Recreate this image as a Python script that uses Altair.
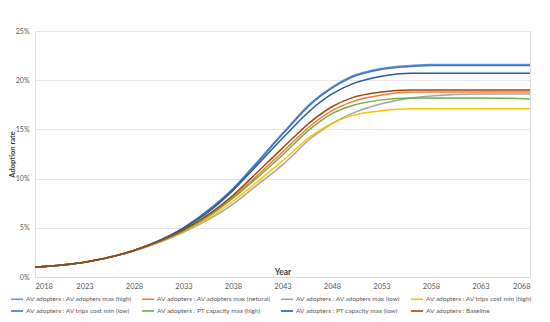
import altair as alt
import pandas as pd

years = [2018, 2023, 2028, 2033, 2036, 2038, 2040, 2043, 2046, 2048, 2050, 2053, 2056, 2058, 2063, 2068]

series_names = [
    "AV adopters : AV adopters max (high)",
    "AV adopters : AV adopters max (netural)",
    "AV adopters : AV adopters max (low)",
    "AV adopters : AV trips cost min (high)",
    "AV adopters : AV trips cost min (low)",
    "AV adopters : PT capacity max (high)",
    "AV adopters : PT capacity max (low)",
    "AV adopters : Baseline",
]
colors = ["#5B9BD5", "#ED7D31", "#A5A5A5", "#FFC000", "#4472C4", "#70AD47", "#255E91", "#9E480E"]

# values in percent
av_max_high    = [1.0, 1.5, 2.7, 5.0, 7.2, 9.0, 11.2, 14.6, 17.8, 19.3, 20.4, 21.2, 21.5, 21.6, 21.6, 21.6]
av_max_neutral = [1.0, 1.5, 2.7, 4.75, 6.6, 8.1, 9.9, 12.7, 15.5, 16.9, 17.8, 18.5, 18.8, 18.8, 18.8, 18.8]
av_max_low     = [1.0, 1.5, 2.65, 4.55, 6.1, 7.4, 9.0, 11.4, 14.2, 15.6, 16.6, 17.6, 18.2, 18.4, 18.6, 18.6]
trips_min_high = [1.0, 1.5, 2.7, 4.65, 6.3, 7.7, 9.3, 11.8, 14.4, 15.6, 16.4, 16.9, 17.1, 17.1, 17.1, 17.1]
trips_min_low  = [1.0, 1.5, 2.7, 5.0, 7.15, 8.95, 11.1, 14.5, 17.7, 19.2, 20.3, 21.1, 21.4, 21.5, 21.5, 21.5]
pt_max_high    = [1.0, 1.5, 2.7, 4.7, 6.5, 8.0, 9.7, 12.4, 15.2, 16.6, 17.4, 18.0, 18.2, 18.2, 18.2, 18.1]
pt_max_low     = [1.0, 1.5, 2.7, 4.95, 7.0, 8.8, 10.9, 14.1, 17.1, 18.6, 19.6, 20.4, 20.7, 20.7, 20.7, 20.7]
baseline       = [1.0, 1.5, 2.7, 4.8, 6.7, 8.3, 10.2, 13.1, 15.9, 17.3, 18.2, 18.8, 19.0, 19.0, 19.0, 19.0]

all_values = [av_max_high, av_max_neutral, av_max_low, trips_min_high,
              trips_min_low, pt_max_high, pt_max_low, baseline]

x_ticks = [2018, 2023, 2028, 2033, 2038, 2043, 2048, 2053, 2058, 2063, 2068]
y_ticks = [0, 0.05, 0.10, 0.15, 0.20, 0.25]

rows = []
for order, (name, vals) in enumerate(zip(series_names, all_values)):
    for y, v in zip(years, vals):
        rows.append({"Year": y, "rate": v / 100.0, "series": name, "order": order})
df = pd.DataFrame(rows)

FONT = "Lato"

chart = alt.Chart(df).mark_line(strokeWidth=1.5, interpolate="monotone").encode(
    x=alt.X("Year:Q",
            scale=alt.Scale(domain=[2018, 2068], nice=False, zero=False),
            axis=alt.Axis(values=x_ticks, format="d", title="Year", grid=False, ticks=False,
                          domainColor="#D9D9D9", domainWidth=1.2,
                          labelColor="#595959", labelFontSize=7.5, labelPadding=5,
                          labelFont=FONT, titleFont=FONT, titleFontSize=8.5,
                          titleColor="#404040", titleFontWeight="bold",
                          titleY=-1, titleBaseline="bottom")),
    y=alt.Y("rate:Q",
            scale=alt.Scale(domain=[0, 0.25], nice=False),
            axis=alt.Axis(values=y_ticks, format=".0%", title="Adoption rate",
                          domain=False, ticks=False, gridColor="#E6E6E6", gridWidth=1,
                          labelColor="#595959", labelFontSize=7, labelPadding=6,
                          labelFont=FONT, titleFont=FONT, titleFontSize=7.5,
                          titleColor="#404040", titleFontWeight="bold",
                          titleX=-19, titleBaseline="bottom")),
    color=alt.Color("series:N",
                    scale=alt.Scale(domain=series_names, range=colors),
                    sort=series_names,
                    legend=alt.Legend(title=None, orient="none", legendX=-25, legendY=261,
                                      columns=4, direction="horizontal",
                                      symbolType="stroke", symbolSize=144, symbolStrokeWidth=1.6,
                                      labelFont=FONT, labelFontSize=6.5, labelColor="#595959",
                                      labelOffset=2, rowPadding=1, columnPadding=6,
                                      labelLimit=200)),
    order=alt.Order("order:Q"),
).properties(
    width=495, height=246,
    autosize=alt.AutoSizeParams(type="none"),
    padding={"left": 27, "top": 23, "right": 12, "bottom": 37},
).configure_view(stroke=None).configure(background="white")

chart.save("out.html", embed_options={"renderer": "svg", "actions": False})
